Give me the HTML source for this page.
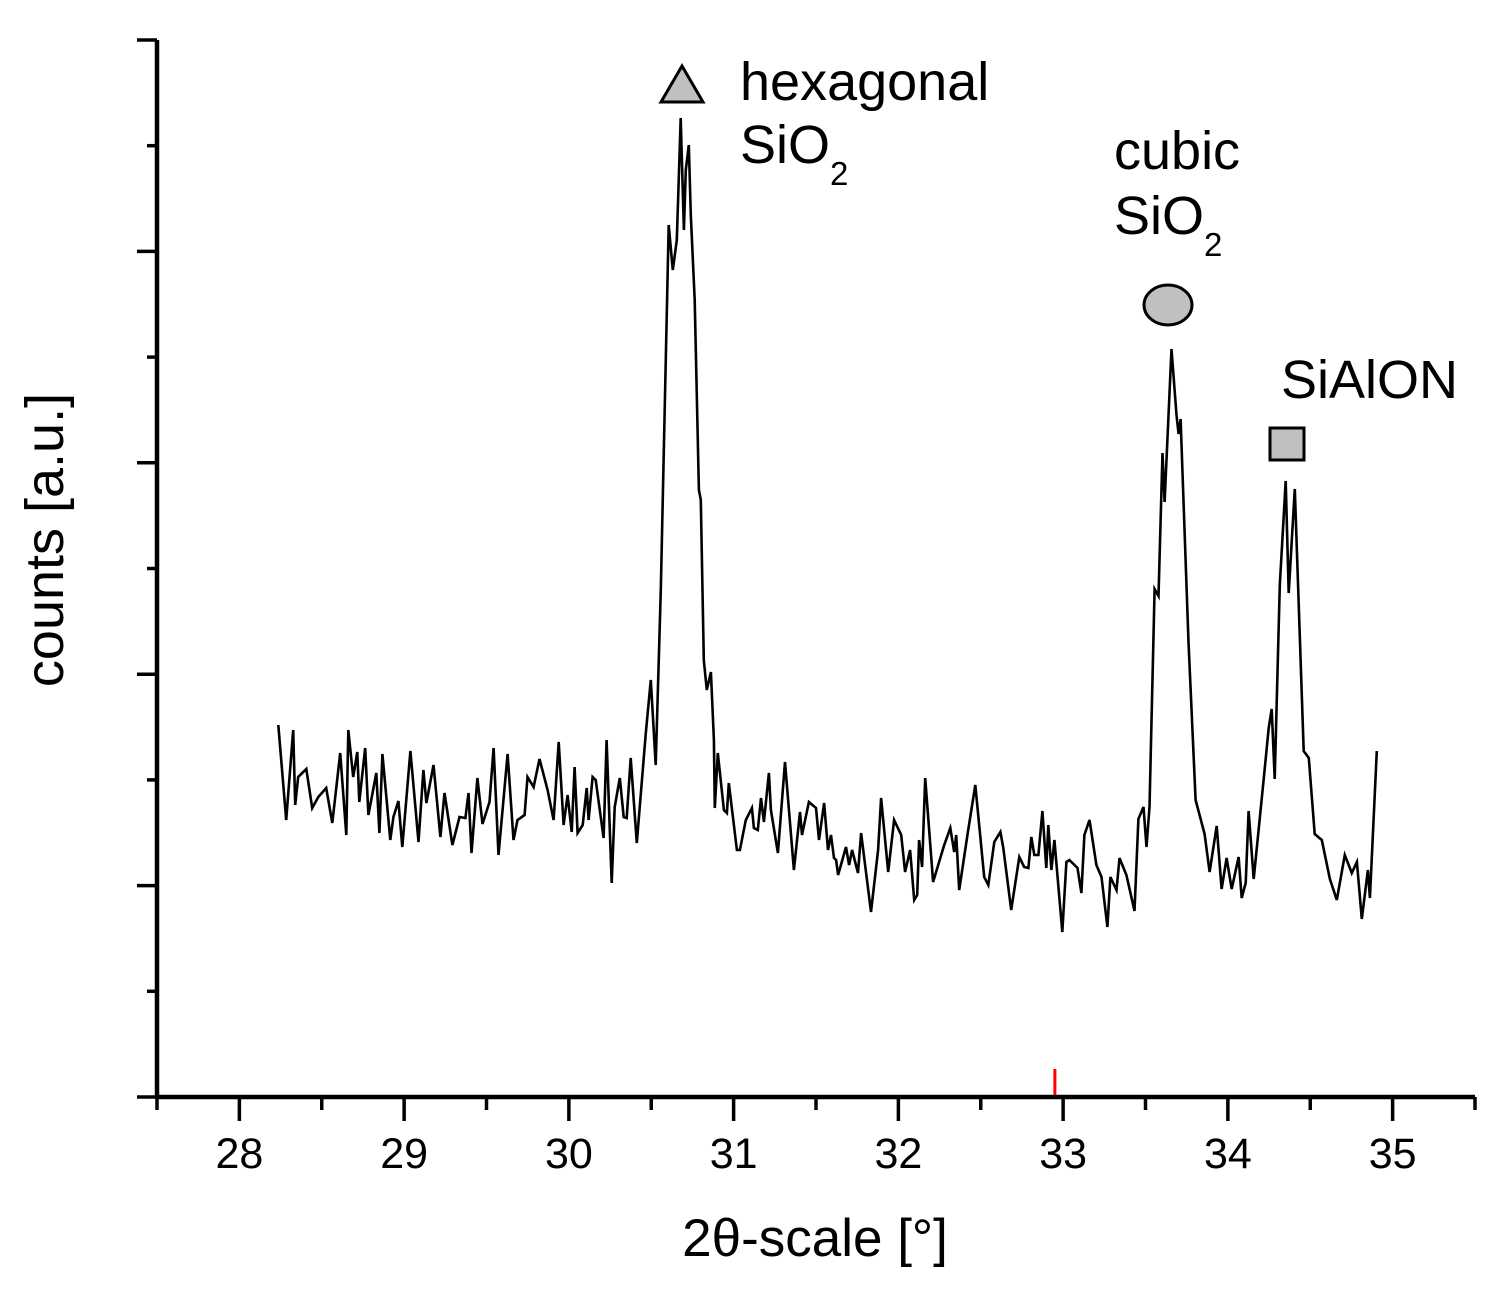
<!DOCTYPE html>
<html><head><meta charset="utf-8"><style>
html,body{margin:0;padding:0;background:#fff;}
svg{display:block;font-family:"Liberation Sans",Arial,sans-serif;}
</style></head><body>
<svg id="chart" width="1507" height="1303" viewBox="0 0 1507 1303" xmlns="http://www.w3.org/2000/svg">
<g id="axes"></g>
<g id="series"></g>
<g>
<polygon points="661,102 703,102 682,66" fill="#c0c0c0" stroke="#000" stroke-width="3"/>
<text x="740" y="100" font-size="54">hexagonal</text>
<text x="740" y="163" font-size="54">SiO<tspan font-size="33" dy="22">2</tspan></text>
<ellipse cx="1168" cy="305" rx="24" ry="20" fill="#c0c0c0" stroke="#000" stroke-width="3"/>
<text x="1114" y="169" font-size="54">cubic</text>
<text x="1114" y="234" font-size="54">SiO<tspan font-size="33" dy="22">2</tspan></text>
<rect x="1270" y="428" width="34" height="32" fill="#c0c0c0" stroke="#000" stroke-width="3"/>
<text x="1281" y="398" font-size="54">SiAlON</text>
</g>
<text x="815" y="1256" font-size="53" text-anchor="middle">2θ-scale [°]</text>
<text transform="translate(63,540) rotate(-90)" font-size="54" text-anchor="middle">counts [a.u.]</text>
</svg>
<script>
const theta = [28.236,28.284,28.327,28.339,28.357,28.406,28.442,28.479,28.527,28.564,28.612,28.649,28.661,28.691,28.716,28.728,28.764,28.783,28.831,28.850,28.868,28.916,28.935,28.965,28.989,29.038,29.087,29.117,29.135,29.178,29.220,29.245,29.293,29.336,29.372,29.391,29.409,29.445,29.476,29.518,29.543,29.573,29.628,29.664,29.688,29.731,29.749,29.786,29.822,29.871,29.907,29.938,29.968,29.992,30.017,30.035,30.053,30.084,30.108,30.120,30.144,30.163,30.211,30.229,30.260,30.278,30.309,30.333,30.351,30.375,30.412,30.467,30.497,30.527,30.558,30.606,30.631,30.655,30.679,30.698,30.710,30.728,30.740,30.764,30.789,30.801,30.819,30.837,30.862,30.880,30.886,30.904,30.941,30.959,30.971,31.020,31.038,31.074,31.111,31.123,31.147,31.166,31.184,31.214,31.226,31.269,31.312,31.366,31.403,31.415,31.457,31.500,31.518,31.549,31.573,31.591,31.609,31.622,31.634,31.682,31.701,31.719,31.755,31.774,31.834,31.877,31.895,31.938,31.974,32.017,32.041,32.071,32.096,32.114,32.126,32.144,32.163,32.211,32.278,32.315,32.339,32.351,32.369,32.424,32.467,32.521,32.546,32.582,32.619,32.637,32.685,32.734,32.764,32.789,32.807,32.825,32.850,32.874,32.898,32.910,32.929,32.947,32.995,33.020,33.038,33.087,33.111,33.129,33.160,33.202,33.233,33.269,33.287,33.324,33.342,33.384,33.433,33.457,33.488,33.506,33.524,33.555,33.579,33.603,33.616,33.658,33.688,33.701,33.713,33.761,33.804,33.859,33.889,33.932,33.962,33.992,34.023,34.065,34.084,34.108,34.126,34.157,34.223,34.248,34.266,34.284,34.315,34.351,34.369,34.406,34.460,34.491,34.527,34.570,34.619,34.661,34.710,34.752,34.783,34.813,34.850,34.862,34.904];
const counts = [372,277,367,292,320,328,289,300,309,274,344,262,367,320,345,295,349,282,324,264,343,257,280,296,250,346,255,327,294,332,260,304,252,280,279,304,244,319,273,295,349,242,343,257,277,282,320,310,338,307,277,355,272,302,265,330,264,272,309,277,320,317,259,357,214,290,319,280,279,339,254,364,417,332,507,872,827,857,979,867,927,952,882,797,607,597,437,407,425,357,289,344,287,284,314,247,247,277,289,269,267,299,275,324,287,244,335,227,285,262,295,289,257,294,247,262,239,237,222,250,232,247,224,264,185,247,299,225,277,262,225,247,197,202,257,230,319,215,252,269,245,262,207,267,312,220,212,255,265,249,187,240,230,229,260,242,242,286,229,272,227,257,165,235,237,229,204,262,277,232,220,170,220,207,239,222,186,278,290,250,290,508,501,644,595,748,682,663,678,455,297,263,225,271,208,239,208,240,199,214,286,218,327,369,388,318,512,616,504,608,346,339,263,257,218,197,242,224,235,178,227,199,346];
const xTickLabels = ["28","29","30","31","32","33","34","35"];
const xTickValues = [28,29,30,31,32,33,34,35];
const yMajorValues = [0,211.4,422.8,634.2,845.6,1057];
const markerTheta = [32.95];

const NS="http://www.w3.org/2000/svg";
const X0=157,X1=1475,XMIN=27.5,XMAX=35.5;
const Y0=1097,Y1=40,YMIN=0,YMAX=1057;
function sx(v){return X0+(v-XMIN)/(XMAX-XMIN)*(X1-X0);}
function sy(v){return Y0-(v-YMIN)/(YMAX-YMIN)*(Y0-Y1);}
function mk(tag,attrs,parent){const e=document.createElementNS(NS,tag);for(const k in attrs)e.setAttribute(k,attrs[k]);parent.appendChild(e);return e;}
const axes=document.getElementById('axes');
let a=mk('line',{x1:X0,y1:Y1,x2:X0,y2:Y0+2,stroke:'#000','stroke-width':4.5},axes);


a=mk('line',{x1:X0-2,y1:Y0,x2:X1,y2:Y0,stroke:'#000','stroke-width':4.5},axes);


for(let v=XMIN; v<=XMAX+1e-6; v+=0.5){
  const major=Math.abs(v-Math.round(v))<1e-6;
  const t=mk('line',{x1:sx(v),y1:Y0,x2:sx(v),y2:Y0+(major?24:13),stroke:'#000','stroke-width':3.5},axes);
  
  
}
xTickValues.forEach((v,i)=>{
  const t=mk('text',{x:sx(v),y:1168,'font-size':43,'text-anchor':'middle'},axes);
  t.textContent=xTickLabels[i];
  
  
});
yMajorValues.forEach((v,i)=>{
  const t=mk('line',{x1:X0-20,y1:sy(v),x2:X0,y2:sy(v),stroke:'#000','stroke-width':3.5},axes);
  
  
  if(i<yMajorValues.length-1){
    const m=(v+yMajorValues[i+1])/2;
    const t2=mk('line',{x1:X0-10,y1:sy(m),x2:X0,y2:sy(m),stroke:'#000','stroke-width':3.5},axes);
    
    
  }
});
markerTheta.forEach(v=>{
  const r=mk('line',{x1:sx(v),y1:Y0-28,x2:sx(v),y2:Y0-2,stroke:'#ff0000','stroke-width':3},axes);
  
  
});
const series=document.getElementById('series');
const d=theta.map((t,i)=>(i?'L':'M')+sx(t).toFixed(1)+','+sy(counts[i]).toFixed(1)).join(' ');
const p=mk('path',{d:d,fill:'none',stroke:'#000','stroke-width':2.6,'stroke-linejoin':'miter'},series);


</script>
</body></html>
